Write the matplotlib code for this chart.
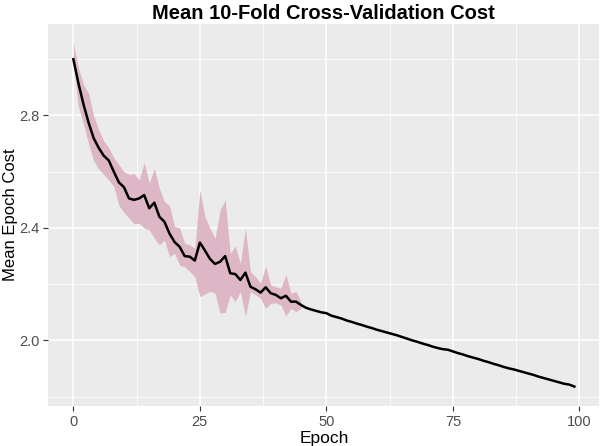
import numpy as np
import matplotlib
matplotlib.use("Agg")
import matplotlib.pyplot as plt

plt.rcParams['font.family'] = ['Liberation Sans', 'DejaVu Sans']

# mean cost per epoch (0..99)
mean_cost = [3.000, 2.915, 2.840, 2.775, 2.720, 2.685, 2.657, 2.640, 2.600, 2.562,
             2.545, 2.505, 2.500, 2.505, 2.517, 2.470, 2.490, 2.440, 2.422, 2.380,
             2.350, 2.333, 2.300, 2.298, 2.284, 2.348, 2.320, 2.290, 2.272, 2.280,
             2.300, 2.239, 2.236, 2.215, 2.241, 2.191, 2.182, 2.170, 2.189, 2.168,
             2.162, 2.150, 2.159, 2.138, 2.138, 2.126, 2.116, 2.110, 2.105, 2.100,
             2.097, 2.088, 2.083, 2.078, 2.071, 2.066, 2.060, 2.055, 2.049, 2.044,
             2.038, 2.033, 2.028, 2.023, 2.018, 2.012, 2.006, 2.000, 1.995, 1.989,
             1.984, 1.978, 1.973, 1.969, 1.967, 1.961, 1.955, 1.950, 1.944, 1.939,
             1.934, 1.928, 1.923, 1.917, 1.912, 1.906, 1.901, 1.897, 1.892, 1.887,
             1.882, 1.877, 1.871, 1.866, 1.861, 1.856, 1.851, 1.846, 1.843, 1.836]
epochs = np.arange(len(mean_cost))

# ribbon over the folds, epochs 0..45
band_upper = [3.057, 2.970, 2.910, 2.879, 2.800, 2.750, 2.710, 2.685, 2.650, 2.625,
              2.600, 2.590, 2.594, 2.571, 2.632, 2.559, 2.612, 2.541, 2.494, 2.480,
              2.405, 2.400, 2.346, 2.340, 2.328, 2.535, 2.440, 2.400, 2.363, 2.464,
              2.500, 2.310, 2.336, 2.274, 2.399, 2.245, 2.227, 2.203, 2.265, 2.197,
              2.191, 2.186, 2.235, 2.168, 2.174, 2.138]
band_lower = [2.986, 2.831, 2.770, 2.700, 2.640, 2.610, 2.590, 2.570, 2.547, 2.480,
              2.455, 2.435, 2.415, 2.417, 2.400, 2.393, 2.363, 2.340, 2.357, 2.298,
              2.310, 2.268, 2.262, 2.245, 2.227, 2.156, 2.165, 2.174, 2.168, 2.097,
              2.100, 2.162, 2.138, 2.174, 2.085, 2.174, 2.162, 2.150, 2.114, 2.132,
              2.134, 2.126, 2.087, 2.114, 2.102, 2.115]
band_epochs = np.arange(len(band_upper))

fig = plt.figure(figsize=(6, 4.46), dpi=100)
ax = fig.add_axes([0.0805, 0.0904, 0.9185, 0.8556])
ax.set_facecolor('#EBEBEB')

ax.fill_between(band_epochs, band_lower, band_upper, color='#DDB7C5', lw=0, zorder=2)
ax.plot(epochs, mean_cost, color='black', lw=1.8, zorder=3)

ax.set_xlim(-4.95, 103.95)
ax.set_ylim(1.768, 3.125)
ax.set_xticks([0, 25, 50, 75, 100])
ax.set_xticks([12.5, 37.5, 62.5, 87.5], minor=True)
ax.set_yticks([2.0, 2.4, 2.8])
ax.set_yticks([1.8, 2.2, 2.6, 3.0], minor=True)
ax.grid(which='major', color='white', lw=1.1, zorder=1)
ax.grid(which='minor', color='white', lw=0.55, zorder=1)
ax.set_axisbelow(True)
for s in ax.spines.values():
    s.set_visible(False)
ax.tick_params(which='major', length=3.5, width=0.8, color='#333333',
               labelcolor='#4D4D4D', labelsize=10.5, pad=3)
ax.tick_params(which='minor', length=0)

ax.set_xlabel('Epoch', fontsize=12.5, labelpad=2)
fig.text(0.018, 0.518, 'Mean Epoch Cost', fontsize=12, rotation=90,
         ha='center', va='center')
ax.set_title('Mean 10-Fold Cross-Validation Cost', fontsize=14.5,
             fontweight='bold', pad=4)

fig.savefig('out.png', dpi=100)
